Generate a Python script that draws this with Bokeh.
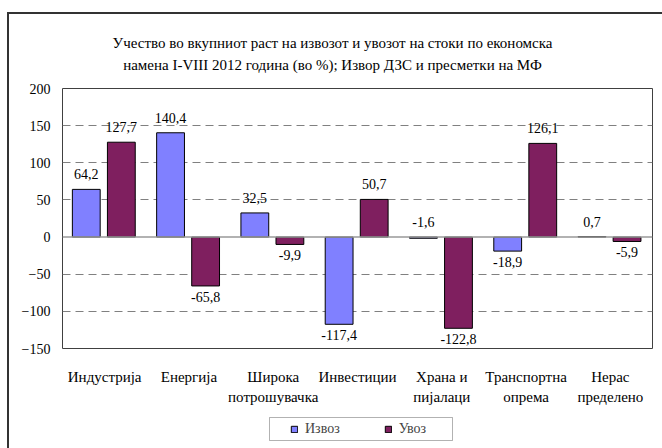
from bokeh.plotting import figure
from bokeh.layouts import column
from bokeh.models import (ColumnDataSource, FactorRange, Range1d, FixedTicker, LabelSet, Label,
                          Legend, LegendItem, Span, BoxAnnotation, InlineStyleSheet)
from bokeh.transform import dodge
from bokeh.embed import file_html
from bokeh.resources import INLINE

# ---------------- data ----------------
categories = ["Индустрија", "Енергија", "Широка\nпотрошувачка", "Инвестиции",
              "Храна и\nпијалаци", "Транспортна\nопрема", "Нерас\nпределено"]
izvoz = [64.2, 140.4, 32.5, -117.4, -1.6, -18.9, 0.7]
uvoz = [127.7, -65.8, -9.9, 50.7, -122.8, 126.1, -5.9]
series_names = ["Извоз", "Увоз"]
y_ticks = [-150, -100, -50, 0, 50, 100, 150, 200]
title_lines = ["Учество во вкупниот раст на извозот и увозот на стоки по економска",
               "намена I-VIII 2012 година (во %); Извор ДЗС и пресметки на МФ"]

FONT = "Liberation Serif"
COLORS = ["#8080FF", "#7F1F5F"]
OFFSETS = [-0.218, 0.198]
BAR_W = 0.33

W = 662
FRAME_L, FRAME_R = 62, 652          # plot frame, px (all strips share it)
H_TITLE, H_MAIN, H_LEG = 74, 336, 38


def strip(height):
    f = figure(width=W, height=height, x_range=Range1d(FRAME_L, FRAME_R), y_range=Range1d(0, height),
               output_backend="svg", toolbar_location=None, x_axis_location=None, y_axis_location=None,
               min_border=0, min_border_left=FRAME_L, min_border_right=W - FRAME_R,
               min_border_top=0, min_border_bottom=0)
    f.outline_line_color = None
    f.xgrid.visible = False
    f.ygrid.visible = False
    f.border_fill_color = "white"
    f.background_fill_color = "white"
    return f


# ---------------- title strip ----------------
t = strip(H_TITLE)
for i, line in enumerate(title_lines):
    t.add_layout(Label(x=W / 2 + 1, y=H_TITLE - 42 - 22 * i, text=line, text_align="center",
                       text_baseline="middle", text_font=FONT, text_font_size="15px",
                       text_font_style="normal", text_color="black"))

# ---------------- main chart ----------------
p = figure(width=W, height=H_MAIN, x_range=FactorRange(*categories), y_range=Range1d(-150, 200),
           output_backend="svg", toolbar_location=None, title=None,
           min_border_left=FRAME_L, min_border_right=W - FRAME_R, min_border_top=14,
           min_border_bottom=62)
p.background_fill_color = "white"
p.border_fill_color = "white"
p.outline_line_color = "#404040"
p.outline_line_width = 1

src = ColumnDataSource(dict(cat=categories, izvoz=izvoz, uvoz=uvoz))
for name, col, off, color in zip(series_names, ["izvoz", "uvoz"], OFFSETS, COLORS):
    p.vbar(x=dodge("cat", off, range=p.x_range), top=col, bottom=0, width=BAR_W, source=src,
           fill_color=color, line_color="black", line_width=1)

p.add_layout(Span(location=0, dimension="width", line_color="#999999", line_width=1.5))


def fmt(v):
    return f"{v:.1f}".replace(".", ",")


for vals, off in zip([izvoz, uvoz], OFFSETS):
    above = dict(cat=[], y=[], t=[])
    below = dict(cat=[], y=[], t=[])
    for c, v in zip(categories, vals):
        if v > -3:
            above["cat"].append(c); above["y"].append(max(v, 0)); above["t"].append(fmt(v))
        else:
            below["cat"].append(c); below["y"].append(v); below["t"].append(fmt(v))
    p.add_layout(LabelSet(source=ColumnDataSource(above), x=dodge("cat", off, range=p.x_range), y="y",
                          text="t", text_align="center", text_baseline="bottom", y_offset=10,
                          text_font=FONT, text_font_size="14px", text_color="black"))
    p.add_layout(LabelSet(source=ColumnDataSource(below), x=dodge("cat", off, range=p.x_range), y="y",
                          text="t", text_align="center", text_baseline="top", y_offset=-6,
                          text_font=FONT, text_font_size="14px", text_color="black"))

p.yaxis.ticker = FixedTicker(ticks=y_ticks)
p.yaxis.axis_line_color = None
p.yaxis.major_tick_line_color = None
p.yaxis.minor_tick_line_color = None
p.yaxis.major_tick_out = 0
p.yaxis.major_label_standoff = 12
p.yaxis.major_label_text_font = FONT
p.yaxis.major_label_text_font_size = "14px"
p.yaxis.major_label_text_color = "black"

p.xaxis.axis_line_color = None
p.xaxis.major_tick_line_color = None
p.xaxis.major_tick_out = 0
p.xaxis.major_label_standoff = 20
p.xaxis.major_label_text_font = FONT
p.xaxis.major_label_text_font_size = "15px"
p.xaxis.major_label_text_color = "black"
p.xaxis.major_label_text_line_height = 1.3
p.xaxis.major_label_orientation = "horizontal"

p.xgrid.grid_line_color = None
p.ygrid.ticker = FixedTicker(ticks=[v for v in y_ticks if v not in (0, -150, 200)])
p.ygrid.grid_line_color = "#808080"
p.ygrid.grid_line_dash = "8 5"
p.ygrid.grid_line_width = 1

# ---------------- legend strip ----------------
q = strip(H_LEG)
# hidden stand-in bars (far outside the visible range) that give the legend its swatches
legend_renderers = [q.vbar(x=[-100000], top=[0], bottom=0, width=1, fill_color=c, line_color="black",
                           line_width=1) for c in COLORS]
legend = Legend(items=[LegendItem(label=n, renderers=[r]) for n, r in zip(series_names, legend_renderers)],
                location=(228, 11), orientation="horizontal", border_line_color=None,
                background_fill_alpha=0, padding=0, spacing=44, glyph_width=8, glyph_height=8,
                label_standoff=7, label_text_font=FONT, label_text_font_size="14px",
                label_height=14, margin=0)
q.add_layout(legend, "center")
q.add_layout(BoxAnnotation(left=269, right=452, bottom=8, top=31, fill_alpha=0,
                           line_color="black", line_width=1))

layout = column(t, p, q, spacing=0)
layout.stylesheets = [InlineStyleSheet(css=(
    ":host {position: relative;}"
    ":host::after {content: ''; position: absolute; left: 7px; top: 12px; "
    "width: 655px; height: 436px; box-sizing: border-box; "
    "border-left: 2px solid #333333; border-top: 2px solid #333333; pointer-events: none;}"))]

open("out.html", "w").write(file_html(layout, INLINE))
